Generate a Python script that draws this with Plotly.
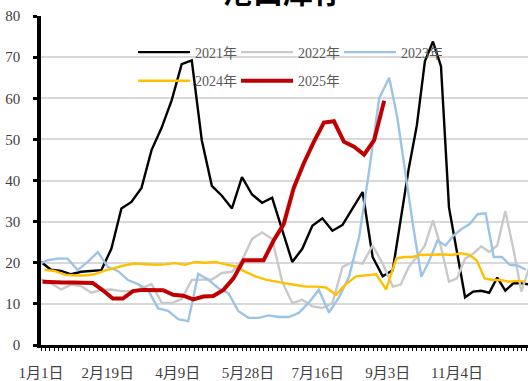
import plotly.graph_objects as go

# Sample positions along the x axis, in weeks from 1 Jan.
# Weekly steps until early September, tighter spacing afterwards.
week_pos = [0, 1, 2, 3, 4, 5, 6, 7, 8, 9, 10, 11, 12, 13, 14, 15, 16, 17, 18, 19,
            20, 21, 22, 23, 24, 25, 26, 27, 28, 29, 30, 31, 32, 33, 34, 35,
            35.8, 36.6, 37.4, 38.2, 39.0, 39.8, 40.6, 41.4, 42.2, 43.0, 43.8,
            44.6, 45.4, 46.2, 47.0, 47.8, 48.6]

# Calendar offset of each year's reporting day (weeks)
year_shift = {"2021年": 0.0, "2022年": 0.0, "2023年": -0.35, "2024年": 0.35, "2025年": 0.15}

inv_2021 = [20.2, 18.3, 18.0, 17.2, 17.8, 18.0, 18.2, 23.4, 33.2, 34.8, 38.2, 47.4, 52.8,
            59.5, 68.3, 69.2, 49.8, 38.7, 36.3, 33.2, 40.8, 36.6, 34.6, 35.8, 28.2, 20.2,
            23.4, 29.0, 30.8, 27.8, 29.2, 33.2, 37.2, 21.4, 16.7, 18.2, 30.5, 43.0, 53.4,
            69.0, 73.8, 67.8, 33.4, 22.0, 11.6, 13.0, 13.2, 12.7, 16.4, 13.2, 15.0, 15.0, 14.7]

inv_2022 = [16.0, 15.0, 13.5, 14.7, 14.3, 12.7, 13.4, 13.5, 13.1, 13.1, 13.8, 14.8, 10.3,
            10.2, 11.2, 15.8, 15.9, 15.9, 17.5, 17.8, 20.6, 25.8, 27.4, 25.8, 15.4, 10.2,
            11.0, 9.4, 9.0, 10.2, 19.0, 20.2, 19.8, 24.2, 19.8, 14.2, 14.7, 19.0, 21.4,
            24.2, 30.3, 23.8, 15.4, 16.2, 21.0, 22.2, 24.0, 22.6, 24.2, 32.6, 23.4, 13.0, 19.0]

inv_2023 = [19.5, 20.6, 21.0, 21.0, 18.2, 20.2, 22.6, 19.0, 18.0, 15.8, 14.8, 13.4, 8.9,
            8.3, 6.3, 5.8, 17.3, 15.9, 13.8, 12.6, 8.2, 6.6, 6.6, 7.2, 6.8, 6.8, 7.8, 10.3,
            13.4, 7.9, 11.6, 16.6, 26.2, 42.3, 60.0, 65.0, 55.4, 42.0, 28.6, 16.6, 20.6,
            25.4, 24.2, 26.6, 28.2, 29.4, 31.8, 32.0, 21.4, 21.4, 19.5, 19.3, 18.3]

inv_2024 = [18.3, 18.0, 17.1, 16.9, 16.9, 17.2, 18.1, 18.8, 19.4, 19.8, 19.6, 19.5, 19.6,
            19.9, 19.5, 20.2, 20.0, 20.2, 19.6, 19.1, 17.8, 16.7, 15.9, 15.4, 15.0, 14.6,
            14.2, 14.2, 14.0, 12.2, 14.8, 16.7, 17.0, 17.2, 13.5, 21.0, 21.4, 21.4, 21.9,
            22.0, 22.0, 22.0, 21.9, 22.3, 22.0, 20.6, 16.2, 15.8, 15.8, 15.4, 15.6, 15.4]

inv_2025 = [15.4, 15.2, 15.2, 15.2, 15.2, 15.1, 13.3, 11.3, 11.3, 13.1, 13.4, 13.4, 13.3,
            12.2, 12.0, 11.1, 11.8, 11.9, 13.4, 16.2, 20.6, 20.6, 20.6, 25.4, 29.4, 38.2,
            44.2, 49.4, 54.1, 54.4, 49.4, 48.2, 46.3, 49.8, 59.4]

tick_text = ["1月1日", "2月19日", "4月9日", "5月28日", "7月16日", "9月3日", "11月4日"]
tick_week = [0, 6.65, 13.6, 20.6, 27.55, 34.5, 41.4]

series = [
    ("2021年", inv_2021, "#000000", 2.4, "legend"),
    ("2022年", inv_2022, "#c9c9c9", 2.4, "legend"),
    ("2023年", inv_2023, "#9dc3e6", 2.4, "legend"),
    ("2024年", inv_2024, "#ffc000", 2.4, "legend2"),
    ("2025年", inv_2025, "#c00000", 4.0, "legend2"),
]

SERIF = "Liberation Serif, Noto Sans CJK SC, serif"

fig = go.Figure()
for name, vals, color, width, leg in series:
    xs = [p + year_shift[name] for p in week_pos[:len(vals)]]
    fig.add_trace(go.Scatter(x=xs, y=vals, name=name, mode="lines",
                             line=dict(color=color, width=width),
                             legend=leg))

legend_common = dict(orientation="h", xanchor="left", yanchor="middle",
                     entrywidth=36, entrywidthmode="pixels", itemwidth=52,
                     bgcolor="rgba(0,0,0,0)",
                     font=dict(family=SERIF, size=14, color="#595959"))

fig.update_layout(
    width=528, height=381,
    margin=dict(l=41, r=0, t=16, b=32),
    paper_bgcolor="white", plot_bgcolor="white",
    showlegend=True,
    legend=dict(x=0.189, y=0.889, **legend_common),
    legend2=dict(x=0.189, y=0.802, **legend_common),
    xaxis=dict(range=[0, 48.46], tickmode="array", tickvals=tick_week, ticktext=tick_text,
               ticks="", showgrid=False, zeroline=False,
               showline=True, linecolor="black", linewidth=3,
               minor=dict(tickmode="linear", tick0=0, dtick=0.435, ticks="outside",
                          ticklen=3, tickwidth=1, tickcolor="black", showgrid=False),
               ticklabelstandoff=12,
               tickfont=dict(family=SERIF, size=15, color="#404040")),
    yaxis=dict(range=[0, 80], dtick=10, tick0=0, showgrid=True, gridcolor="#d9d9d9",
               gridwidth=2, zeroline=False, showline=True, linecolor="black",
               linewidth=3.5, ticks="outside", ticklen=4, tickwidth=2.5, tickcolor="black",
               ticklabelstandoff=10,
               tickfont=dict(family=SERIF, size=15, color="#404040")),
    annotations=[dict(text="<b>港口库存</b>", xref="paper", yref="paper", x=0.497, y=1,
                      xanchor="center", yanchor="bottom", yshift=2, showarrow=False,
                      font=dict(family="Noto Sans CJK SC", size=30, color="black"))],
)

fig.write_html("out.html")
